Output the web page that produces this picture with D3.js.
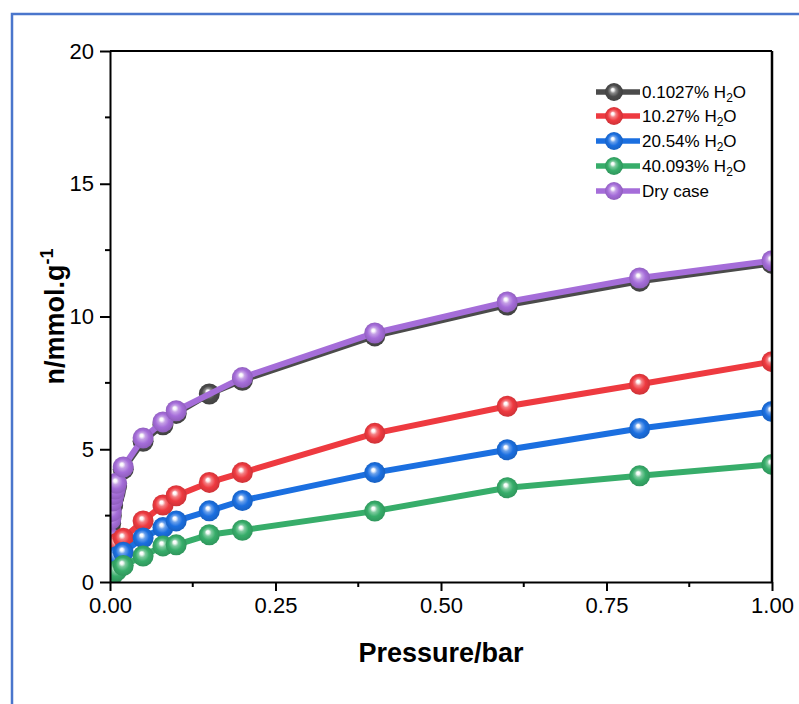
<!DOCTYPE html>
<html>
<head>
<meta charset="utf-8">
<script src="https://cdn.jsdelivr.net/npm/d3@7"></script>
<style>
  html, body { margin: 0; padding: 0; background: #fff; }
  svg { display: block; font-family: Arial, "Liberation Sans", sans-serif; }
</style>
</head>
<body>
<svg id="chart" width="799" height="704"></svg>
<script>
// Adsorption isotherms: uptake (mmol/g) versus pressure (bar)
const xTicks = [0, 0.25, 0.5, 0.75, 1.0];
const yTicks = [0, 5, 10, 15, 20];

const pLow = [0.001, 0.005, 0.01, 0.02, 0.05, 0.08, 0.1, 0.15, 0.2, 0.4, 0.6, 0.8, 1.0];

const pBlack = [0.0005, 0.001, 0.002, 0.004, 0.006, 0.008, 0.01, 0.02, 0.05, 0.08, 0.1, 0.15, 0.2, 0.4, 0.6, 0.8, 1.0];
const nBlack = [1.5, 2.2, 2.5, 2.9, 3.2, 3.4, 3.62, 4.25, 5.3, 5.92, 6.35, 7.08, 7.6, 9.27, 10.43, 11.33, 12.0];

const pDry = [0.0005, 0.001, 0.002, 0.004, 0.006, 0.008, 0.01, 0.02, 0.05, 0.08, 0.1, 0.2, 0.4, 0.6, 0.8, 1.0];
const nDry = [1.65, 2.35, 2.65, 3.05, 3.3, 3.5, 3.72, 4.33, 5.42, 6.03, 6.45, 7.7, 9.38, 10.55, 11.45, 12.1];

const nRed = [0.95, 1.25, 1.45, 1.65, 2.3, 2.9, 3.25, 3.75, 4.12, 5.6, 6.62, 7.45, 8.3];
const nBlue = [0.6, 0.8, 0.95, 1.12, 1.66, 2.05, 2.3, 2.68, 3.07, 4.12, 4.98, 5.78, 6.42];
const nGreen = [0.2, 0.3, 0.42, 0.62, 0.98, 1.36, 1.4, 1.78, 1.95, 2.67, 3.55, 4.0, 4.43];

const seriesNames = ["0.1027%", "10.27%", "20.54%", "40.093%", "Dry case"];
const seriesColors = ["#4b4b4b", "#ee3a40", "#1b6fe0", "#37ad6a", "#a56dd9"];

const series = [
  { name: seriesNames[0], color: seriesColors[0], p: pBlack, n: nBlack, water: true },
  { name: seriesNames[1], color: seriesColors[1], p: pLow, n: nRed, water: true },
  { name: seriesNames[2], color: seriesColors[2], p: pLow, n: nBlue, water: true },
  { name: seriesNames[3], color: seriesColors[3], p: pLow, n: nGreen, water: true },
  { name: seriesNames[4], color: seriesColors[4], p: pDry, n: nDry, water: false }
];
// drawing order: dark, dry, then the wet series on top
const drawOrder = [0, 4, 1, 2, 3];

const svg = d3.select("#chart");
const margin = { left: 110, right: 27, top: 51, bottom: 122 };
const W = 799, H = 704;
const x = d3.scaleLinear().domain([0, 1]).range([margin.left, W - margin.right]);
const y = d3.scaleLinear().domain([0, 20]).range([H - margin.bottom, margin.top]);

// outer frame
svg.append("rect")
  .attr("x", 12).attr("y", 14).attr("width", 900).attr("height", 900)
  .attr("fill", "none").attr("stroke", "#4a76cc").attr("stroke-width", 2.5);

// sphere gradients
const defs = svg.append("defs");
series.forEach((s, i) => {
  const c = d3.color(s.color);
  const g = defs.append("radialGradient")
    .attr("id", "ball" + i)
    .attr("cx", "50%").attr("cy", "50%").attr("r", "55%")
    .attr("fx", "42%").attr("fy", "36%");
  g.append("stop").attr("offset", "0%").attr("stop-color", "#ffffff");
  g.append("stop").attr("offset", "12%").attr("stop-color", "#ffffff").attr("stop-opacity", 0.95);
  g.append("stop").attr("offset", "30%").attr("stop-color", d3.interpolateRgb(c, "#fff")(0.35));
  g.append("stop").attr("offset", "58%").attr("stop-color", c.formatHex());
  g.append("stop").attr("offset", "100%").attr("stop-color", c.darker(0.5).formatHex());
});

defs.append("clipPath").attr("id", "plotClip")
  .append("rect")
  .attr("x", x(0)).attr("y", y(20))
  .attr("width", x(1) - x(0)).attr("height", y(0) - y(20));

const plot = svg.append("g").attr("clip-path", "url(#plotClip)");
const line = d3.line().x(d => x(d[0])).y(d => y(d[1]));

drawOrder.forEach(i => {
  const s = series[i];
  const pts = s.p.map((p, k) => [p, s.n[k]]);
  const g = plot.append("g");
  g.append("path").datum(pts)
    .attr("d", line)
    .attr("fill", "none").attr("stroke", s.color)
    .attr("stroke-width", 6).attr("stroke-linejoin", "round");
  g.selectAll("circle").data(pts).join("circle")
    .attr("cx", d => x(d[0])).attr("cy", d => y(d[1]))
    .attr("r", 10.5)
    .attr("fill", `url(#ball${i})`);
});

// axes
const xAxis = d3.axisBottom(x).tickValues(xTicks).tickFormat(d3.format(".2f")).tickSize(9).tickSizeOuter(0).tickPadding(6);
const yAxis = d3.axisLeft(y).tickValues(yTicks).tickFormat(d3.format("d")).tickSize(10).tickSizeOuter(0).tickPadding(6);

const xMinor = d3.range(0.125, 1, 0.25);
const yMinor = d3.range(2.5, 20, 5);

const gx = svg.append("g").attr("transform", `translate(0,${y(0)})`).call(xAxis);
const gy = svg.append("g").attr("transform", `translate(${x(0)},0)`).call(yAxis);
[gx, gy].forEach(g => {
  g.select(".domain").attr("stroke", "#000").attr("stroke-width", 2);
  g.selectAll(".tick line").attr("stroke", "#000").attr("stroke-width", 2);
  g.selectAll(".tick text").attr("font-size", 22).attr("fill", "#000")
    .attr("font-family", "Arial, 'Liberation Sans', sans-serif");
});
gx.selectAll(".minor").data(xMinor).join("line")
  .attr("x1", d => x(d)).attr("x2", d => x(d)).attr("y1", 0).attr("y2", 5)
  .attr("stroke", "#000").attr("stroke-width", 2);
gy.selectAll(".minor").data(yMinor).join("line")
  .attr("y1", d => y(d)).attr("y2", d => y(d)).attr("x1", 0).attr("x2", -5)
  .attr("stroke", "#000").attr("stroke-width", 2);

// top and right frame lines
svg.append("line").attr("x1", x(0)).attr("x2", x(1)).attr("y1", y(20)).attr("y2", y(20))
  .attr("stroke", "#000").attr("stroke-width", 2);
svg.append("line").attr("x1", x(1)).attr("x2", x(1)).attr("y1", y(20)).attr("y2", y(0))
  .attr("stroke", "#000").attr("stroke-width", 2.5);

// axis titles
svg.append("text")
  .attr("x", (x(0) + x(1)) / 2).attr("y", 662)
  .attr("text-anchor", "middle").attr("font-size", 27).attr("font-weight", "bold")
  .text("Pressure/bar");

const yt = svg.append("text")
  .attr("transform", `translate(64,${(y(0) + y(20)) / 2}) rotate(-90)`)
  .attr("text-anchor", "middle").attr("font-size", 27).attr("font-weight", "bold");
yt.append("tspan").text("n/mmol.g");
yt.append("tspan").attr("font-size", 18).attr("dy", -11).text("-1");

// legend
const legend = svg.append("g");
const legendY = [92, 116, 141, 166, 191];
series.forEach((s, i) => {
  const row = legend.append("g").attr("transform", `translate(0,${legendY[i]})`);
  row.append("line").attr("x1", 596).attr("x2", 640).attr("y1", 0).attr("y2", 0)
    .attr("stroke", s.color).attr("stroke-width", 5.5);
  row.append("circle").attr("cx", 614).attr("cy", 0).attr("r", 9).attr("fill", `url(#ball${i})`);
  const t = row.append("text").attr("x", 642).attr("y", 6).attr("font-size", 17).attr("fill", "#000");
  if (s.water) {
    t.append("tspan").text(s.name + " H");
    t.append("tspan").attr("font-size", 12).attr("dy", 4).text("2");
    t.append("tspan").attr("dy", -4).text("O");
  } else {
    t.text(s.name);
  }
});
</script>
</body>
</html>
